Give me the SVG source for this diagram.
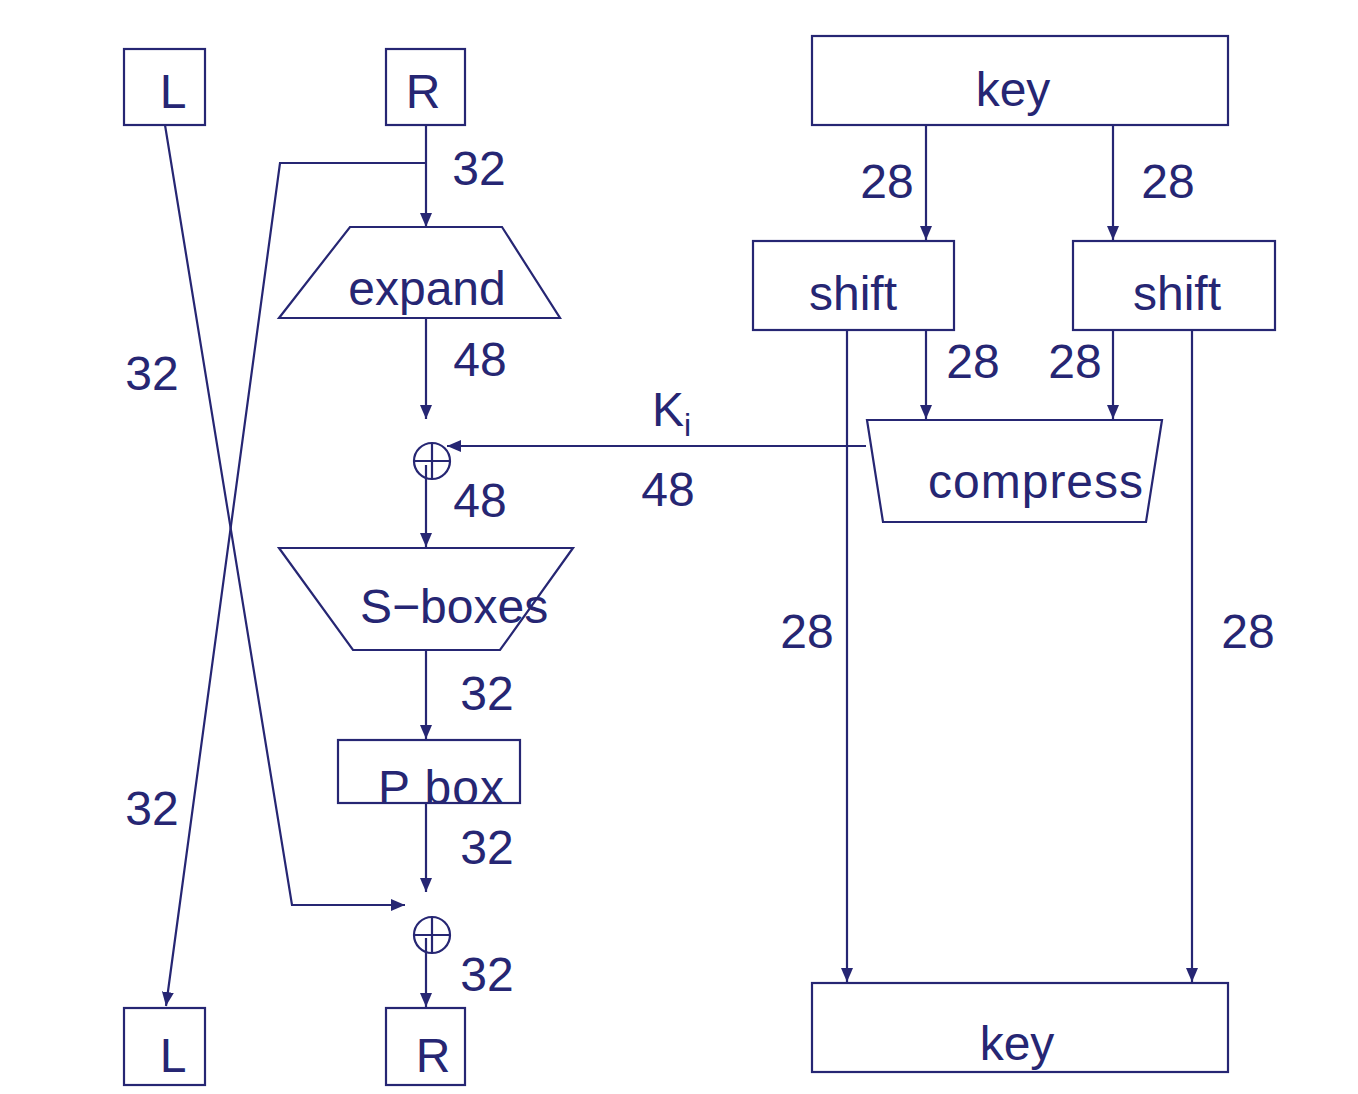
<svg xmlns="http://www.w3.org/2000/svg" width="1358" height="1094" viewBox="0 0 1358 1094">
<style>
.s{fill:none;stroke:#262673;stroke-width:2.2}
.t{font-family:"Liberation Sans",Arial,sans-serif;font-size:48px;fill:#262673}
.m{text-anchor:middle}
.c{fill:none;stroke:#262673;stroke-width:2.2}
</style>
<defs>
<marker id="a" viewBox="0 0 14 12" refX="14" refY="6" markerWidth="14" markerHeight="12" markerUnits="userSpaceOnUse" orient="auto">
<path d="M0,0 L14,6 L0,12 Z" fill="#262673"/>
</marker>
</defs>
<rect width="1358" height="1094" fill="#ffffff"/>
<g id="L-top"><rect class="s" x="124" y="49" width="81" height="76"/><text class="t m" x="173" y="108">L</text></g>
<g id="R-top"><rect class="s" x="386" y="49" width="79" height="76"/><text class="t m" x="423" y="108">R</text></g>
<g id="expand"><polygon class="s" points="350,227 502,227 560,318 279,318"/><text class="t m" x="427" y="305">expand</text></g>
<g id="xor1"><circle class="c" cx="432" cy="461" r="18"/><line class="c" x1="414" y1="461" x2="450" y2="461"/><line class="c" x1="432" y1="443" x2="432" y2="479"/></g>
<g id="sboxes"><polygon class="s" points="279,548 573,548 500,650 353,650"/><text class="t" x="360" y="623">S−boxes</text></g>
<g id="pbox"><rect class="s" x="338" y="740" width="182" height="63"/><text class="t" x="378" y="804" letter-spacing="1">P box</text></g>
<g id="xor2"><circle class="c" cx="432" cy="935" r="18"/><line class="c" x1="414" y1="935" x2="450" y2="935"/><line class="c" x1="432" y1="917" x2="432" y2="953"/></g>
<g id="L-bot"><rect class="s" x="124" y="1008" width="81" height="77"/><text class="t m" x="173" y="1072">L</text></g>
<g id="R-bot"><rect class="s" x="386" y="1008" width="79" height="77"/><text class="t m" x="433" y="1072">R</text></g>
<g id="key-top"><rect class="s" x="812" y="36" width="416" height="89"/><text class="t m" x="1013" y="106">key</text></g>
<g id="shift-left"><rect class="s" x="753" y="241" width="201" height="89"/><text class="t m" x="853" y="310">shift</text></g>
<g id="shift-right"><rect class="s" x="1073" y="241" width="202" height="89"/><text class="t m" x="1177" y="310">shift</text></g>
<g id="compress"><polygon class="s" points="867,420 1162,420 1146,522 883,522"/><text class="t" x="928" y="498" letter-spacing="1">compress</text></g>
<g id="key-bot"><rect class="s" x="812" y="983" width="416" height="89"/><text class="t m" x="1017" y="1060">key</text></g>
<g id="connectors">
<line class="s" x1="426" y1="125" x2="426" y2="227" marker-end="url(#a)"/>
<polyline class="s" points="426,163 280,163 166,1006" marker-end="url(#a)"/>
<polyline class="s" points="165,125 292,905 405,905" marker-end="url(#a)"/>
<line class="s" x1="426" y1="318" x2="426" y2="419" marker-end="url(#a)"/>
<line class="s" x1="426" y1="465" x2="426" y2="547" marker-end="url(#a)"/>
<line class="s" x1="866" y1="446" x2="447" y2="446" marker-end="url(#a)"/>
<line class="s" x1="426" y1="650" x2="426" y2="739" marker-end="url(#a)"/>
<line class="s" x1="426" y1="803" x2="426" y2="892" marker-end="url(#a)"/>
<line class="s" x1="426" y1="938" x2="426" y2="1007" marker-end="url(#a)"/>
<line class="s" x1="926" y1="125" x2="926" y2="240" marker-end="url(#a)"/>
<line class="s" x1="1113" y1="125" x2="1113" y2="240" marker-end="url(#a)"/>
<line class="s" x1="926" y1="330" x2="926" y2="419" marker-end="url(#a)"/>
<line class="s" x1="1113" y1="330" x2="1113" y2="419" marker-end="url(#a)"/>
<line class="s" x1="847" y1="330" x2="847" y2="982" marker-end="url(#a)"/>
<line class="s" x1="1192" y1="330" x2="1192" y2="982" marker-end="url(#a)"/>
</g>
<g id="labels">
<text class="t m" x="479" y="185">32</text>
<text class="t m" x="480" y="376">48</text>
<text class="t m" x="480" y="517">48</text>
<text class="t m" x="487" y="710">32</text>
<text class="t m" x="487" y="864">32</text>
<text class="t m" x="487" y="991">32</text>
<text class="t m" x="152" y="390">32</text>
<text class="t m" x="152" y="825">32</text>
<text class="t" x="652" y="426">K<tspan font-size="32" dy="10">i</tspan></text>
<text class="t m" x="668" y="506">48</text>
<text class="t m" x="887" y="198">28</text>
<text class="t m" x="1168" y="198">28</text>
<text class="t m" x="973" y="378">28</text>
<text class="t m" x="1075" y="378">28</text>
<text class="t m" x="807" y="648">28</text>
<text class="t m" x="1248" y="648">28</text>
</g>
</svg>
